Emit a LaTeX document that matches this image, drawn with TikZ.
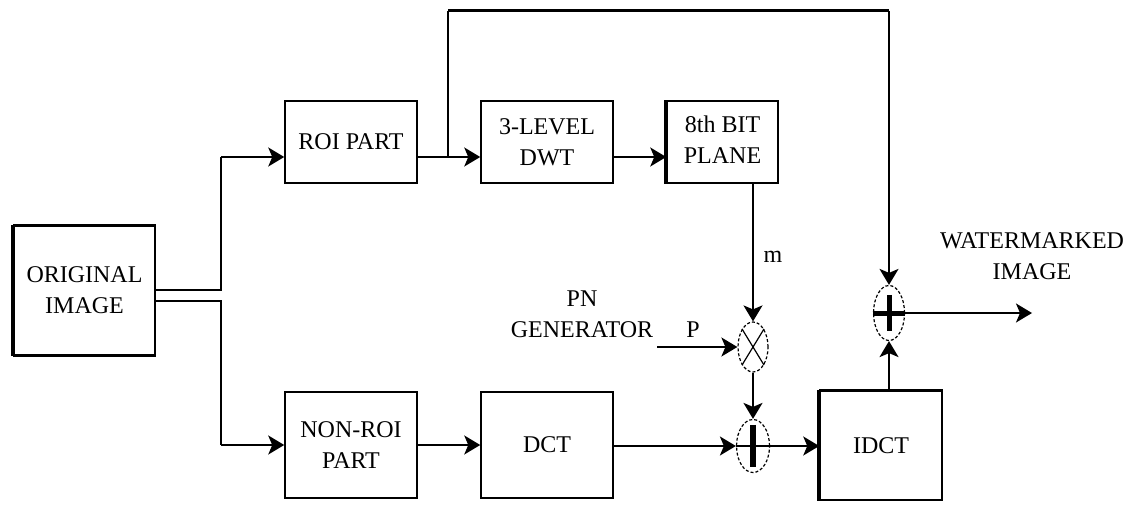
\documentclass[tikz,border=0pt]{standalone}
\usepackage{fontspec}
\setmainfont{Liberation Serif}
\usetikzlibrary{arrows.meta,shapes.geometric}
\begin{document}
\begin{tikzpicture}[x=1pt,y=-1pt,
  font=\fontsize{24}{31}\selectfont,
  blk/.style={draw, line width=1.5pt, rectangle, inner sep=0pt, align=center},
  op/.style={draw, ellipse, densely dashed, line width=1.2pt, inner sep=0pt},
  conn/.style={line width=2pt},
  arr/.style={conn, -{Stealth[length=16pt,width=19pt,inset=4pt]}},
  lbl/.style={align=center, inner sep=0pt}]
\useasboundingbox (0,0) rectangle (1139,505);

% blocks
\node[blk, minimum width=141pt, minimum height=129pt] (orig) at (84.5,290.5) {ORIGINAL\\IMAGE};
\node[blk, minimum width=132pt, minimum height=82pt] (roi) at (351,142) {\raisebox{-10pt}{ROI PART}};
\node[blk, minimum width=132pt, minimum height=82pt] (dwt) at (547,142) {3-LEVEL\\DWT};
\node[blk, minimum width=111pt, minimum height=82pt] (bit) at (722.5,142) {\raisebox{-9pt}{\begin{tabular}{@{}c@{}}8th BIT\\PLANE\end{tabular}}};
\node[blk, minimum width=132pt, minimum height=106pt] (nonroi) at (351,445) {NON-ROI\\PART};
\node[blk, minimum width=132pt, minimum height=106pt] (dct) at (547,445) {DCT};
\node[blk, minimum width=122pt, minimum height=109pt] (idct) at (881,445.5) {IDCT};

% thick edges
\draw[line width=4pt] (orig.north west) -- (orig.south west);
\draw[line width=3pt] (orig.north west) -- (orig.north east);
\draw[line width=3pt] (orig.south west) -- (orig.south east);
\draw[line width=4pt] (bit.north west) -- (bit.south west);
\draw[line width=4pt] (idct.north west) -- (idct.south west);
\draw[line width=3pt] (idct.north west) -- (idct.north east);

% operators
\node[op, minimum width=30pt, minimum height=50pt] (mul) at (753,347) {};
\node[op, minimum width=33pt, minimum height=53pt] (add1) at (753,446) {};
\node[op, minimum width=31pt, minimum height=55pt] (add2) at (889,313) {};
\draw[line width=1.2pt] (mul.north west) -- (mul.south east) (mul.north east) -- (mul.south west);
\draw[line width=6pt, shorten <=6pt, shorten >=6pt] (add1.north) -- (add1.south);
\draw[line width=1.5pt] (add1.west) -- (add1.east);
\draw[line width=5pt, shorten <=10pt, shorten >=10pt] (add2.north) -- (add2.south);
\draw[line width=5pt] (add2.west) -- (add2.east);

% labels
\node[lbl] (lm) at (773,257) {m};
\node[lbl] (lp) at (693,330) {P};
\node[lbl] (pn) at (582,314) {PN\\GENERATOR};
\node[lbl] (wm) at (1032,256) {WATERMARKED\\IMAGE};

% junction coordinates
\coordinate (s1) at (221,290);
\coordinate (s2) at (221,301);
\coordinate (r1) at (221,157);
\coordinate (n1) at (221,445);
\coordinate (fb) at (448,157);
\coordinate (fbt) at (448,11);
\coordinate (fbr) at (889,11);
\coordinate (pin) at (657,347);
\coordinate (out) at (1032,313);

% connectors
\draw[conn] (orig.east |- s1) -- (s1) -- (r1);
\draw[arr] (r1) -- (roi.west |- r1);
\draw[conn] (orig.east |- s2) -- (s2) -- (n1);
\draw[arr] (n1) -- (nonroi.west |- n1);
\draw[arr] (roi.east |- r1) -- (dwt.west |- r1);
\draw[arr] (dwt.east |- r1) -- (bit.west |- r1);
\draw[conn] (fb) -- (fbt);
\draw[line width=3pt] (fbt) -- (fbr);
\draw[arr] (fbr) -- (add2.north);
\draw[arr] (bit.south -| mul) -- (mul.north);
\draw[arr] (pin) -- (mul.west);
\draw[arr] (mul.south) -- (add1.north);
\draw[arr] (nonroi.east |- n1) -- (dct.west |- n1);
\draw[arr] (dct.east |- add1) -- (add1.west);
\draw[arr] (add1.east) -- (idct.west |- add1);
\draw[arr] (idct.north -| add2) -- (add2.south);
\draw[arr] (add2.east) -- (out);
\end{tikzpicture}
\end{document}
